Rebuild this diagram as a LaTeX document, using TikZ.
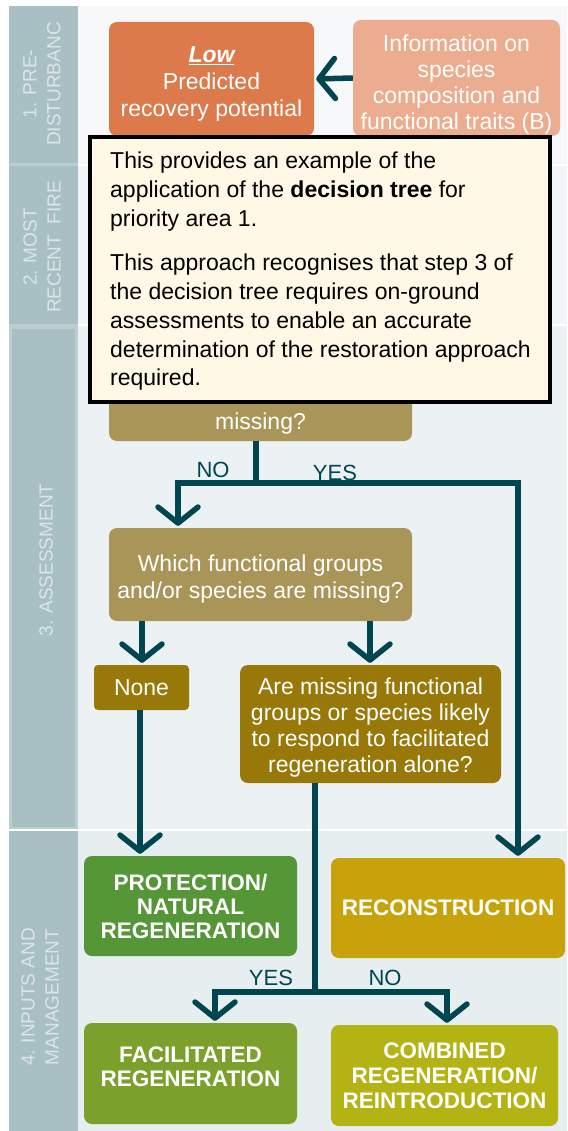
\documentclass[tikz,border=0pt]{standalone}
\usepackage{fontspec}
\setmainfont{Liberation Sans}
\usetikzlibrary{arrows.meta,calc}
\definecolor{bandcol}{HTML}{A8BFC4}
\definecolor{bandline}{HTML}{BDCED2}
\definecolor{labeltxt}{HTML}{DCE6E8}
\definecolor{bgone}{HTML}{F6F8FA}
\definecolor{bgtwo}{HTML}{F3F6F8}
\definecolor{bgthree}{HTML}{ECF1F4}
\definecolor{bgfour}{HTML}{E6EEF0}
\definecolor{lowcol}{HTML}{DC7A4C}
\definecolor{infocol}{HTML}{EBAC8F}
\definecolor{callfill}{HTML}{FFF8E6}
\definecolor{qcol}{HTML}{AA9559}
\definecolor{qdark}{HTML}{977808}
\definecolor{protcol}{HTML}{559637}
\definecolor{reccol}{HTML}{C7A20A}
\definecolor{faccol}{HTML}{7CA02C}
\definecolor{combcol}{HTML}{B4B314}
\definecolor{teal}{HTML}{004650}
\newcommand{\topfill}[1]{\rule{0pt}{#1}}
\begin{document}
\begin{tikzpicture}[x=1pt,y=-1pt,
  box/.style={rounded corners=8pt, inner sep=0pt, text=white, align=center,
    font=\fontsize{23}{27}\selectfont},
  boldbox/.style={box, font=\fontsize{22.5}{24}\selectfont\bfseries},
  bandlabel/.style={rotate=90, text=labeltxt, align=center, inner sep=0pt,
    font=\fontsize{19}{24}\selectfont},
  conn/.style={draw=teal, line width=5.5pt},
  arr/.style={conn, -{Straight Barb[length=16pt,width=40pt,line width=5.5pt,round]}, shorten >=2pt},
  yn/.style={text=teal, inner sep=0pt, font=\fontsize{22}{24}\selectfont}
]
\useasboundingbox (0,0) rectangle (567,1131);
\fill[white] (0,0) rectangle (567,1131);
% background panels
\fill[bgone] (78,6) rectangle (567,164);
\fill[bgtwo] (78,166) rectangle (567,324);
\fill[bgthree] (78,326) rectangle (567,829);
\fill[bgfour] (78,831) rectangle (567,1131);
% left column
\fill[bandcol] (9,6) rectangle (78,1131);
\fill[bandline] (9,163.5) rectangle (78,166.5);
\fill[bandline] (9,323.5) rectangle (78,326.5);
\draw[bandline, line width=3pt] (10.5,327) rectangle (76.5,828.5);
\fill[white] (9,829) rectangle (567,831);
\fill[white] (78,164) rectangle (567,166);
\fill[white] (78,324) rectangle (567,326);
% band labels
\node[bandlabel] (lab1) at (42,84) {1. PRE-\\DISTURBANC};
\node[bandlabel] (lab2) at (42,247) {2. MOST\\RECENT\ \ FIRE};
\node[bandlabel] (lab3) at (46,560) {3. ASSESSMENT};
\node[bandlabel] (lab4) at (40,997) {4. INPUTS AND\\MANAGEMENT};
% top boxes
\node[box, fill=lowcol, minimum width=205pt, minimum height=114pt] (low) at (211.5,79)
  {\topfill{26pt}\textbf{\textit{\underline{Low}}}\\Predicted\\recovery potential};
\node[box, fill=infocol, minimum width=207pt, minimum height=116pt,
  font=\fontsize{23}{26}\selectfont] (info) at (456.5,78)
  {\topfill{29pt}Information on\\species\\composition and\\functional traits (B)};
\draw[arr] (info.west) -- (low.east);
% first question (mostly hidden)
\node[box, fill=qcol, minimum width=303pt, minimum height=65pt] (q1) at (260.5,408.5)
  {\phantom{Ay}\\\topfill{25pt}missing?};
% callout
\node[draw=black, line width=4pt, fill=callfill, minimum width=460pt, minimum height=265pt,
  inner sep=0pt] (note) at (320,269.5) {};
\node[anchor=north west, inner sep=0pt, align=left, font=\fontsize{23}{28.7}\selectfont]
  (notetext) at (110,152)
  {This provides an example of the\\application of the \textbf{decision tree} for\\priority area 1.\\[16pt]This approach recognises that step 3 of\\the decision tree requires on-ground\\assessments to enable an accurate\\determination of the restoration approach\\required.};
% second question
\node[box, fill=qcol, minimum width=303pt, minimum height=93pt] (q2) at (260.5,574.5)
  {\topfill{25pt}Which functional groups\\and/or species are missing?};
\node[box, fill=qdark, rounded corners=4pt, minimum width=95pt, minimum height=45pt] (none) at (141.5,687.5) {None};
\node[box, fill=qdark, minimum width=261pt, minimum height=118pt,
  font=\fontsize{23}{26}\selectfont] (q3) at (370.5,724)
  {\topfill{23pt}Are missing functional\\groups or species likely\\to respond to facilitated\\regeneration alone?};
% outcome boxes
\node[boldbox, fill=protcol, minimum width=213pt, minimum height=100pt] (prot) at (190.5,906)
  {PROTECTION/\\NATURAL\\REGENERATION};
\node[boldbox, fill=reccol, minimum width=234pt, minimum height=100pt] (rec) at (448,908)
  {RECONSTRUCTION};
\node[boldbox, fill=faccol, minimum width=213pt, minimum height=101pt, text depth=14pt] (fac) at (190.5,1073.5)
  {FACILITATED\\REGENERATION};
\node[boldbox, fill=combcol, minimum width=227pt, minimum height=101pt, font=\fontsize{22.5}{25}\selectfont\bfseries] (comb) at (444.5,1075.5)
  {COMBINED\\REGENERATION/\\REINTRODUCTION};
% labels
\node[yn] (no1) at (213,470) {NO};
\node[yn] (yes1) at (335,473) {YES};
\node[yn] (yes2) at (271,978) {YES};
\node[yn] (no2) at (385,978) {NO};
% connectors
\coordinate (j1) at (256,483);
\coordinate (j2) at (315,992);
\draw[conn] ([xshift=-4.5pt]q1.south) -- (j1);
\draw[arr] (j1) -| ([xshift=-82.5pt]q2.north);
\draw[arr] (j1) -| ([xshift=70pt]rec.north);
\draw[arr] ([xshift=-118.5pt]q2.south) -- ([xshift=-118.5pt]q2.south |- none.north);
\draw[arr] ([xshift=109.5pt]q2.south) -- ([xshift=109.5pt]q2.south |- q3.north);
\draw[arr] ([xshift=-1.5pt]none.south) -- ([xshift=-1.5pt]none.south |- prot.north);
\draw[conn] ([xshift=-55.5pt]q3.south) -- (j2);
\draw[arr] (j2) -| ([xshift=24.5pt]fac.north);
\draw[arr] (j2) -| ([xshift=2.5pt]comb.north);
\end{tikzpicture}
\end{document}
